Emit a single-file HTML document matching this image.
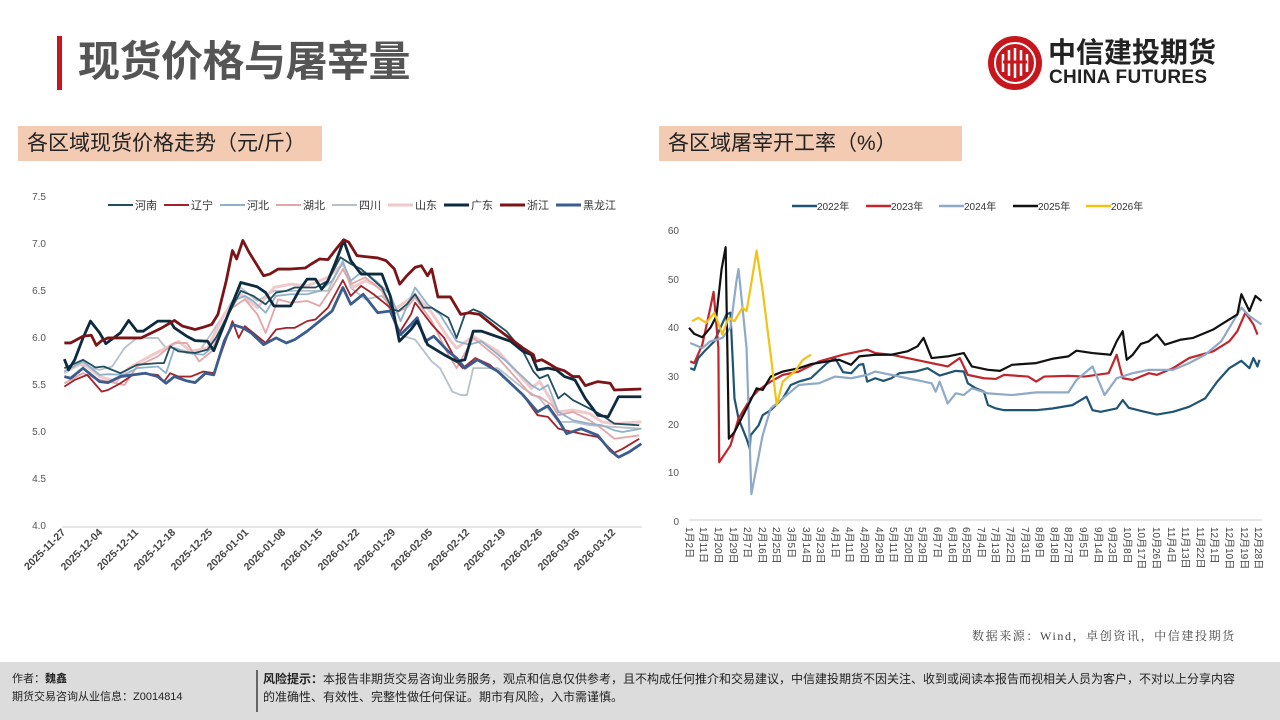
<!DOCTYPE html>
<html><head><meta charset="utf-8"><style>
body{margin:0;width:1280px;height:720px;background:#fff;position:relative;overflow:hidden;font-family:"Liberation Sans","Noto Sans CJK SC",sans-serif;}
.abs{position:absolute;white-space:nowrap}
</style></head><body>
<div class="abs" style="left:57px;top:36px;width:5px;height:54px;background:#C8161D"></div>
<div class="abs" style="left:78px;top:34px;font-size:42px;font-weight:bold;color:#555;line-height:56px;letter-spacing:-0.5px">现货价格与屠宰量</div>
<svg class="abs" style="left:986px;top:34px" width="60" height="60" viewBox="0 0 60 60"><circle cx="29" cy="29" r="27" fill="#C8161D"/><circle cx="29" cy="29" r="20" fill="none" stroke="#fff" stroke-width="2"/><path d="M17 20v18M23 16v26M29 14v30M35 16v26M41 20v18" stroke="#fff" stroke-width="2.5"/><path d="M17 28h24" stroke="#C8161D" stroke-width="3"/></svg>
<div class="abs" style="left:1048px;top:37px;font-size:28px;font-weight:bold;color:#222;line-height:32px">中信建投期货</div>
<div class="abs" style="left:1049px;top:67px;font-size:19px;font-weight:bold;color:#222;line-height:22px;letter-spacing:0.3px">CHINA FUTURES</div>
<div class="abs" style="left:18px;top:126px;width:304px;height:35px;background:#F3CBB3"></div>
<div class="abs" style="left:27px;top:130px;font-size:21px;color:#222;line-height:27px">各区域现货价格走势（元/斤）</div>
<div class="abs" style="left:659px;top:126px;width:303px;height:35px;background:#F3CBB3"></div>
<div class="abs" style="left:668px;top:130px;font-size:21px;color:#222;line-height:27px">各区域屠宰开工率（%）</div>

<svg class="abs" style="left:0;top:0" width="1280" height="720">
<g font-size="10" fill="#555" text-anchor="end">
<text x="46" y="200">7.5</text><text x="46" y="247">7.0</text><text x="46" y="294">6.5</text><text x="46" y="341">6.0</text><text x="46" y="388">5.5</text><text x="46" y="435">5.0</text><text x="46" y="482">4.5</text><text x="46" y="529">4.0</text>
</g>
<line x1="62" y1="527" x2="642" y2="527" stroke="#ccc"/>
<g font-size="10.5" font-weight="bold" fill="#444" text-anchor="end">
<text transform="translate(66,533) rotate(-45)">2025-11-27</text>
<text transform="translate(103,533) rotate(-45)">2025-12-04</text>
<text transform="translate(139,533) rotate(-45)">2025-12-11</text>
<text transform="translate(176,533) rotate(-45)">2025-12-18</text>
<text transform="translate(213,533) rotate(-45)">2025-12-25</text>
<text transform="translate(249,533) rotate(-45)">2026-01-01</text>
<text transform="translate(286,533) rotate(-45)">2026-01-08</text>
<text transform="translate(323,533) rotate(-45)">2026-01-15</text>
<text transform="translate(360,533) rotate(-45)">2026-01-22</text>
<text transform="translate(396,533) rotate(-45)">2026-01-29</text>
<text transform="translate(433,533) rotate(-45)">2026-02-05</text>
<text transform="translate(470,533) rotate(-45)">2026-02-12</text>
<text transform="translate(506,533) rotate(-45)">2026-02-19</text>
<text transform="translate(543,533) rotate(-45)">2026-02-26</text>
<text transform="translate(580,533) rotate(-45)">2026-03-05</text>
<text transform="translate(616,533) rotate(-45)">2026-03-12</text>
</g>
<g font-size="11" fill="#333">
<line x1="108" y1="205" x2="133" y2="205" stroke="#1F4E5F" stroke-width="2"/><text x="135" y="209">河南</text>
<line x1="164" y1="205" x2="189" y2="205" stroke="#A32229" stroke-width="2"/><text x="191" y="209">辽宁</text>
<line x1="220" y1="205" x2="245" y2="205" stroke="#8FB1CC" stroke-width="2"/><text x="247" y="209">河北</text>
<line x1="276" y1="205" x2="301" y2="205" stroke="#E3A5A7" stroke-width="2"/><text x="303" y="209">湖北</text>
<line x1="332" y1="205" x2="357" y2="205" stroke="#B8C0CA" stroke-width="2"/><text x="359" y="209">四川</text>
<line x1="388" y1="205" x2="413" y2="205" stroke="#F0C9CB" stroke-width="3"/><text x="415" y="209">山东</text>
<line x1="444" y1="205" x2="469" y2="205" stroke="#0D2B3E" stroke-width="3"/><text x="471" y="209">广东</text>
<line x1="500" y1="205" x2="525" y2="205" stroke="#7B1416" stroke-width="3"/><text x="527" y="209">浙江</text>
<line x1="556" y1="205" x2="581" y2="205" stroke="#3A5C8F" stroke-width="3"/><text x="583" y="209">黑龙江</text>
</g>
<g transform="translate(0,180) scale(0.4151,0.336)" fill="none" stroke-linejoin="round">
<polyline vector-effect="non-scaling-stroke" stroke="#B8C0CA" stroke-width="1.8" points="155,575 190,550 240,565 270,555 300,500 330,470 380,470 400,500 420,500 450,510 480,510 540,400 580,320 620,360 660,330 700,330 740,330 790,330 826,240 845,320 880,355 920,345 945,380 960,460 1000,475 1040,540 1060,560 1090,630 1110,640 1125,640 1140,560 1200,560 1260,620 1300,650 1320,680 1345,720 1380,720 1420,730 1480,735 1545,740"/>
<polyline vector-effect="non-scaling-stroke" stroke="#F0C9CB" stroke-width="3" points="155,570 200,545 240,585 280,600 310,560 360,525 400,500 430,480 460,510 500,500 540,400 580,340 620,380 660,320 700,310 740,315 790,290 826,250 850,320 880,300 920,320 945,390 980,360 1000,340 1040,395 1080,470 1100,500 1140,465 1200,510 1280,620 1300,600 1320,640 1345,690 1380,685 1420,695 1450,720 1480,725 1545,720"/>
<polyline vector-effect="non-scaling-stroke" stroke="#E3A5A7" stroke-width="1.8" points="155,605 200,575 240,595 300,610 330,555 380,525 420,485 450,485 480,540 510,510 540,420 560,380 590,355 620,400 640,455 670,355 700,365 740,360 770,375 800,320 826,265 845,310 880,290 920,330 945,400 980,380 1000,350 1040,420 1080,520 1100,560 1140,470 1200,530 1280,640 1300,645 1330,670 1345,700 1380,690 1420,715 1450,740 1480,770 1540,760"/>
<polyline vector-effect="non-scaling-stroke" stroke="#8FB1CC" stroke-width="1.8" points="155,570 200,540 240,580 260,578 300,580 330,560 380,555 400,575 420,500 450,515 490,520 520,490 560,360 590,345 610,360 640,395 665,345 700,340 740,340 770,330 800,300 826,245 845,300 875,270 910,305 940,340 965,420 1000,320 1030,370 1060,400 1100,480 1130,490 1160,480 1220,540 1280,610 1300,625 1320,610 1345,690 1380,715 1420,725 1450,730 1480,745 1500,750 1545,740"/>
<polyline vector-effect="non-scaling-stroke" stroke="#A32229" stroke-width="1.8" points="155,615 180,595 210,580 245,630 260,625 290,605 320,580 340,575 360,578 380,580 395,600 410,575 430,585 460,585 490,570 515,575 540,490 560,420 575,470 590,435 610,455 640,485 665,445 690,440 710,440 740,420 760,415 790,380 826,298 845,345 870,315 900,340 940,380 962,455 990,400 1000,365 1040,430 1070,470 1100,540 1115,560 1145,530 1180,550 1260,640 1295,700 1320,705 1345,740 1380,750 1420,760 1440,765 1480,812 1500,800 1540,770"/>
<polyline vector-effect="non-scaling-stroke" stroke="#1F4E5F" stroke-width="1.8" points="155,560 200,535 230,558 250,555 290,575 330,550 380,545 395,545 410,495 430,510 470,515 500,505 520,470 550,400 580,330 610,345 640,370 665,335 690,330 710,320 740,320 760,320 790,300 820,230 845,250 870,265 920,320 945,385 960,390 980,370 1000,340 1020,380 1040,380 1080,410 1100,470 1120,400 1140,385 1160,395 1220,450 1260,510 1285,570 1300,590 1320,580 1345,650 1360,635 1380,655 1420,680 1450,700 1480,725 1540,730"/>
<polyline vector-effect="non-scaling-stroke" stroke="#3A5C8F" stroke-width="2.8" points="155,585 170,590 200,560 240,600 260,603 290,585 320,580 350,575 380,585 400,605 420,585 450,598 470,603 495,575 515,580 540,480 560,430 585,440 605,455 635,490 665,470 690,485 710,475 740,450 770,420 800,390 826,320 845,370 865,350 875,340 910,395 940,390 965,460 990,430 1005,410 1025,480 1045,465 1080,510 1100,530 1120,560 1150,535 1200,570 1260,640 1295,690 1320,672 1345,715 1365,755 1400,740 1440,760 1470,805 1490,825 1515,810 1545,785"/>
<polyline vector-effect="non-scaling-stroke" stroke="#0D2B3E" stroke-width="2.8" points="155,533 165,565 180,535 200,470 218,420 240,455 255,487 290,455 310,418 330,450 345,450 380,420 410,420 420,440 450,465 470,478 500,480 515,508 540,430 580,305 620,318 640,335 660,375 700,375 720,330 740,295 760,295 775,325 790,300 810,240 828,180 845,240 870,280 920,280 940,345 962,480 990,445 1005,420 1020,460 1030,490 1070,520 1100,540 1120,535 1140,450 1160,450 1230,480 1260,510 1280,520 1295,565 1310,562 1320,560 1340,565 1360,585 1385,595 1410,650 1440,700 1465,705 1490,645 1510,645 1545,645"/>
<polyline vector-effect="non-scaling-stroke" stroke="#7B1416" stroke-width="2.8" points="155,485 170,485 200,465 220,462 232,492 245,478 260,470 300,470 340,470 360,458 390,440 420,418 440,435 470,445 490,438 510,430 525,400 545,300 560,210 570,235 585,180 600,215 635,285 650,280 670,265 700,265 735,262 750,250 770,235 790,237 810,205 828,178 840,185 860,225 880,228 910,232 930,240 950,265 963,310 980,285 1000,260 1015,255 1030,285 1040,265 1055,348 1085,348 1110,400 1130,395 1155,400 1200,445 1260,500 1285,520 1290,540 1305,535 1320,545 1340,560 1360,568 1380,585 1395,585 1410,612 1440,600 1470,605 1480,625 1545,622"/>
</g>

<g font-size="10" fill="#555" text-anchor="end">
<text x="679" y="234">60</text><text x="679" y="283">50</text><text x="679" y="331">40</text><text x="679" y="380">30</text><text x="679" y="428">20</text><text x="679" y="476">10</text><text x="679" y="525">0</text>
</g>
<line x1="689" y1="520" x2="1262" y2="520" stroke="#ccc"/>
<g font-size="10" fill="#444">
<text transform="translate(686,527) rotate(90)">1月2日</text><text transform="translate(700,527) rotate(90)">1月11日</text><text transform="translate(715,527) rotate(90)">1月20日</text><text transform="translate(730,527) rotate(90)">1月29日</text><text transform="translate(744,527) rotate(90)">2月7日</text><text transform="translate(759,527) rotate(90)">2月16日</text><text transform="translate(773,527) rotate(90)">2月25日</text><text transform="translate(788,527) rotate(90)">3月5日</text><text transform="translate(803,527) rotate(90)">3月14日</text><text transform="translate(817,527) rotate(90)">3月23日</text><text transform="translate(832,527) rotate(90)">4月1日</text><text transform="translate(846,527) rotate(90)">4月11日</text><text transform="translate(861,527) rotate(90)">4月20日</text><text transform="translate(876,527) rotate(90)">4月29日</text><text transform="translate(890,527) rotate(90)">5月11日</text><text transform="translate(905,527) rotate(90)">5月20日</text><text transform="translate(919,527) rotate(90)">5月29日</text><text transform="translate(934,527) rotate(90)">6月7日</text><text transform="translate(949,527) rotate(90)">6月16日</text><text transform="translate(963,527) rotate(90)">6月25日</text><text transform="translate(978,527) rotate(90)">7月4日</text><text transform="translate(992,527) rotate(90)">7月13日</text><text transform="translate(1007,527) rotate(90)">7月22日</text><text transform="translate(1022,527) rotate(90)">7月31日</text><text transform="translate(1036,527) rotate(90)">8月9日</text><text transform="translate(1051,527) rotate(90)">8月18日</text><text transform="translate(1065,527) rotate(90)">8月27日</text><text transform="translate(1080,527) rotate(90)">9月5日</text><text transform="translate(1095,527) rotate(90)">9月14日</text><text transform="translate(1109,527) rotate(90)">9月23日</text><text transform="translate(1124,527) rotate(90)">10月8日</text><text transform="translate(1138,527) rotate(90)">10月17日</text><text transform="translate(1153,527) rotate(90)">10月26日</text><text transform="translate(1168,527) rotate(90)">11月4日</text><text transform="translate(1182,527) rotate(90)">11月13日</text><text transform="translate(1197,527) rotate(90)">11月22日</text><text transform="translate(1211,527) rotate(90)">12月1日</text><text transform="translate(1226,527) rotate(90)">12月10日</text><text transform="translate(1241,527) rotate(90)">12月19日</text><text transform="translate(1255,527) rotate(90)">12月28日</text>
</g>
<g font-size="10" fill="#333">
<line x1="792" y1="206" x2="817" y2="206" stroke="#1F5473" stroke-width="2.5"/><text x="817" y="210">2022年</text>
<line x1="866" y1="206" x2="891" y2="206" stroke="#C0262C" stroke-width="2.5"/><text x="891" y="210">2023年</text>
<line x1="939" y1="206" x2="964" y2="206" stroke="#8FA9C8" stroke-width="2.5"/><text x="964" y="210">2024年</text>
<line x1="1013" y1="206" x2="1038" y2="206" stroke="#111" stroke-width="2.5"/><text x="1038" y="210">2025年</text>
<line x1="1086" y1="206" x2="1111" y2="206" stroke="#F2C314" stroke-width="2.5"/><text x="1111" y="210">2026年</text>
</g>
<g transform="translate(650,180) scale(0.4023,0.336)" fill="none" stroke-linejoin="round" stroke-width="2.2">
<polyline vector-effect="non-scaling-stroke" stroke="#1F5473" points="100,560 110,565 120,530 135,510 160,480 175,440 190,400 200,395 210,650 220,710 240,770 248,800 250,760 270,730 280,700 300,685 330,650 350,610 370,600 400,590 440,545 460,530 480,572 500,575 520,550 530,548 540,600 560,590 580,598 600,590 620,575 660,570 690,560 720,582 760,568 780,570 790,605 810,620 830,630 840,670 860,680 880,685 960,685 1000,680 1050,670 1085,645 1100,685 1120,690 1160,680 1175,655 1190,678 1230,690 1260,698 1300,690 1340,675 1380,650 1410,600 1440,560 1470,538 1490,560 1500,530 1510,555 1515,535"/>
<polyline vector-effect="non-scaling-stroke" stroke="#C0262C" points="100,540 110,545 130,490 150,380 158,333 170,500 172,840 200,790 220,710 250,650 270,625 300,600 330,580 370,570 420,540 480,520 540,505 560,515 600,520 640,530 680,540 700,545 740,555 770,530 790,580 830,590 860,592 880,580 940,585 960,600 980,585 1040,583 1080,585 1140,575 1160,520 1175,590 1200,595 1240,575 1260,580 1300,560 1340,530 1400,510 1440,480 1460,450 1480,395 1500,430 1510,460"/>
<polyline vector-effect="non-scaling-stroke" stroke="#8FA9C8" points="100,485 130,500 150,480 180,470 200,440 215,300 220,265 230,380 240,500 252,935 280,760 300,680 340,640 370,610 420,605 460,585 500,590 540,580 560,570 600,580 640,590 680,600 700,605 710,630 720,600 740,665 760,635 780,640 800,620 840,635 900,640 960,632 1000,632 1040,632 1060,595 1100,555 1130,640 1160,590 1200,575 1240,565 1300,565 1340,545 1380,520 1420,480 1450,420 1470,380 1490,405 1520,430"/>
<polyline vector-effect="non-scaling-stroke" stroke="#111" points="97,440 110,458 130,468 150,440 165,405 178,265 188,200 196,770 210,750 240,680 265,620 280,625 300,585 330,570 370,560 400,548 440,540 470,535 500,550 520,525 560,520 600,520 640,510 665,495 680,470 700,530 740,525 780,515 800,555 840,565 870,568 900,550 960,545 1000,532 1040,525 1060,508 1100,515 1145,520 1160,480 1175,450 1185,535 1200,520 1220,488 1240,480 1260,460 1280,490 1320,475 1350,470 1380,455 1400,445 1420,430 1440,415 1460,400 1470,340 1490,390 1505,345 1520,360"/>
<polyline vector-effect="non-scaling-stroke" stroke="#F2C314" points="105,420 120,410 140,425 160,395 180,460 195,410 210,420 230,380 240,390 250,320 265,210 280,330 300,520 315,670 330,600 360,570 380,535 400,520"/>
</g>
</svg>

<div class="abs" style="left:972px;top:627px;font-size:12px;color:#444;letter-spacing:1.6px;font-family:'Liberation Serif','Noto Serif CJK SC',serif">数据来源：Wind，卓创资讯，中信建投期货</div>
<div class="abs" style="left:0;top:662px;width:1280px;height:58px;background:#DCDCDC"></div>
<div class="abs" style="left:12px;top:670px;font-size:11px;color:#222;line-height:18px">作者：<b>魏鑫</b><br>期货交易咨询从业信息：Z0014814</div>
<div class="abs" style="left:256px;top:670px;width:2px;height:42px;background:#666"></div>
<div class="abs" style="left:263px;top:670px;font-size:12px;color:#222;line-height:18px"><b>风险提示：</b>本报告非期货交易咨询业务服务，观点和信息仅供参考，且不构成任何推介和交易建议，中信建投期货不因关注、收到或阅读本报告而视相关人员为客户，不对以上分享内容<br>的准确性、有效性、完整性做任何保证。期市有风险，入市需谨慎。</div>
</body></html>
